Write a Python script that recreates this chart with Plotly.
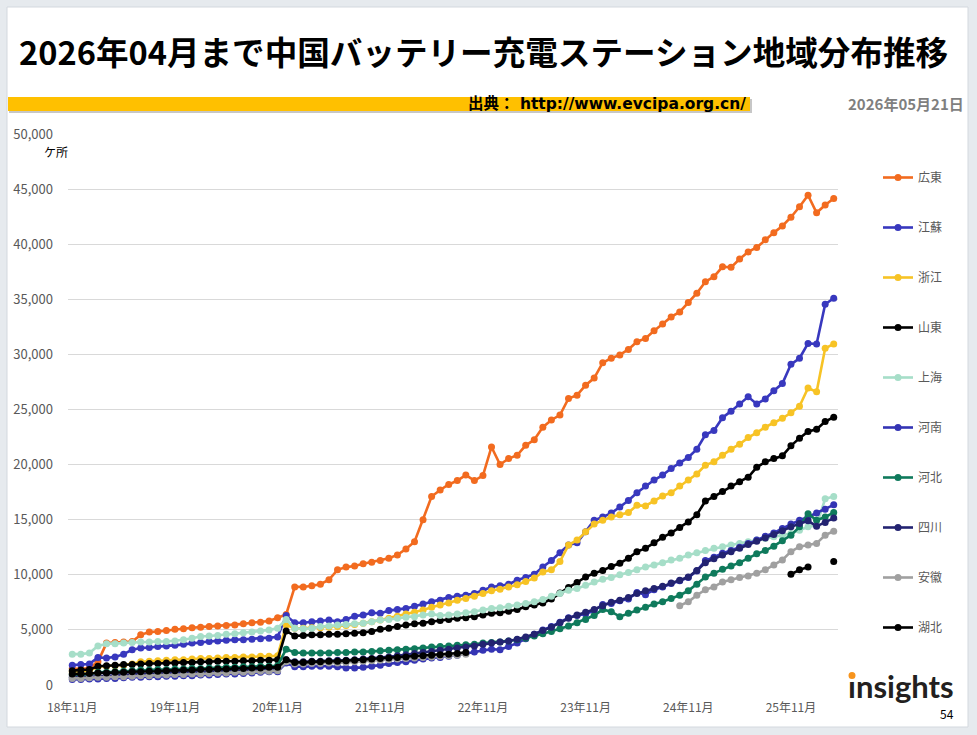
import plotly.graph_objects as go
import pandas as pd

# ---------------- data ----------------
months = [f"{d.year % 100:02d}年{d.month:02d}月"
          for d in pd.date_range("2018-11-01", periods=90, freq="MS")]
tick_labels = ["18年11月", "19年11月", "20年11月", "21年11月",
               "22年11月", "23年11月", "24年11月", "25年11月"]

names = ["広東", "江蘇", "浙江", "山東", "上海", "河南", "河北", "四川", "安徽", "湖北"]
colors = ["#F26B1F", "#3838BE", "#F7C325", "#000000", "#A6DEC8",
          "#3434B4", "#0F7A5C", "#232371", "#A0A0A0", "#000000"]

guangdong = [1500, 1450, 1550, 2100, 3800, 3850, 3900, 3950, 4550, 4800,
             4850, 4950, 5050, 5100, 5200, 5250, 5300, 5350, 5400, 5450,
             5550, 5650, 5700, 5800, 6100, 6400, 8900, 8900, 9000, 9150,
             9550, 10450, 10700, 10800, 11000, 11150, 11300, 11500, 11800, 12350,
             13000, 15000, 17100, 17700, 18200, 18550, 19050, 18550, 19000, 21600,
             20000, 20550, 20850, 21750, 22250, 23400, 24050, 24500, 26000, 26300,
             27200, 27850, 29250, 29650, 29950, 30450, 31150, 31450, 32150, 32750,
             33400, 33850, 34700, 35550, 36600, 37050, 37950, 37900, 38650, 39300,
             39700, 40400, 41050, 41650, 42450, 43400, 44450, 42850, 43550, 44150]

jiangsu = [1800, 1850, 1900, 2500, 2450, 2550, 2800, 3200, 3350, 3400,
           3500, 3550, 3600, 3700, 3800, 3850, 3950, 4000, 4050, 4100,
           4100, 4150, 4200, 4250, 4350, 6300, 5650, 5650, 5750, 5800,
           5900, 5750, 5950, 6250, 6350, 6550, 6500, 6750, 6850, 6950,
           7150, 7350, 7550, 7700, 7950, 8050, 8150, 8300, 8600, 8900,
           9000, 9150, 9500, 9750, 10050, 10700, 11300, 12000, 12700, 12900,
           13900, 14950, 15250, 15600, 16150, 16750, 17450, 18050, 18600, 19050,
           19650, 20150, 20650, 21400, 22700, 23100, 24250, 24850, 25500, 26150,
           25500, 25950, 26700, 27350, 29100, 29650, 31000, 30950, 34550, 35100]

zhejiang = [1200, 1250, 1300, 1650, 1700, 1750, 1800, 1900, 2100, 2150,
            2200, 2250, 2300, 2300, 2350, 2400, 2400, 2450, 2500, 2500,
            2550, 2550, 2600, 2600, 2650, 5450, 5150, 5150, 5200, 5200,
            5250, 5300, 5400, 5500, 5600, 5750, 5900, 6050, 6250, 6450,
            6600, 6800, 7050, 7250, 7450, 7700, 7850, 8050, 8300, 8550,
            8700, 8900, 9100, 9400, 9700, 10250, 10450, 11200, 12700, 13150,
            13900, 14600, 14950, 15250, 15450, 15650, 16300, 16250, 16700, 17150,
            17450, 18050, 18600, 19150, 19950, 20250, 20850, 21400, 21850, 22450,
            22900, 23400, 23800, 24200, 24700, 25300, 26950, 26600, 30550, 30950]

shandong = [1300, 1350, 1400, 1700, 1750, 1800, 1850, 1850, 1900, 1950,
            1950, 2000, 2000, 2050, 2050, 2100, 2100, 2150, 2150, 2150,
            2200, 2200, 2250, 2250, 2300, 4900, 4450, 4500, 4550, 4550,
            4600, 4600, 4650, 4700, 4750, 4850, 5050, 5150, 5300, 5450,
            5550, 5600, 5750, 5850, 5950, 6050, 6100, 6200, 6350, 6500,
            6550, 6700, 6850, 7100, 7250, 7450, 7800, 8350, 8850, 9300,
            9800, 10150, 10400, 10750, 11050, 11500, 12100, 12400, 12900, 13400,
            13800, 14300, 14800, 15450, 16700, 17100, 17550, 18050, 18450, 18850,
            19750, 20250, 20550, 20800, 21700, 22400, 23000, 23200, 23900, 24300]

shanghai = [2800, 2800, 2900, 3550, 3750, 3750, 3800, 3850, 3900, 3900,
            3950, 3950, 4000, 4100, 4250, 4400, 4450, 4500, 4600, 4650,
            4750, 4800, 4900, 5000, 5150, 5950, 5150, 5100, 5150, 5300,
            5350, 5450, 5500, 5550, 5600, 5750, 5900, 5950, 6050, 6150,
            6200, 6350, 6450, 6300, 6350, 6450, 6550, 6650, 6800, 6950,
            7000, 7150, 7250, 7400, 7550, 7750, 8050, 8300, 8600, 8750,
            9050, 9350, 9600, 9750, 10000, 10200, 10450, 10700, 10900, 11100,
            11350, 11500, 11800, 12000, 12200, 12400, 12550, 12700, 12850, 13000,
            13150, 13300, 13450, 13600, 13750, 14050, 14350, 14500, 16900, 17100]

henan = [500, 500, 550, 550, 600, 600, 650, 700, 700, 750,
         750, 800, 800, 850, 850, 900, 900, 950, 1000, 1000,
         1050, 1100, 1150, 1200, 1200, 2000, 1650, 1650, 1700, 1700,
         1700, 1650, 1550, 1550, 1600, 1700, 1800, 1950, 2050, 2100,
         2250, 2350, 2450, 2500, 2600, 2700, 2850, 3000, 3150, 3250,
         3200, 3500, 3800, 4200, 4600, 5000, 5300, 5700, 6100, 6300,
         6450, 6750, 7300, 7400, 7650, 7800, 8400, 8200, 8650, 8900,
         9200, 9450, 9750, 10350, 11300, 11600, 11950, 12200, 12500, 12850,
         13150, 13500, 13800, 14200, 14600, 14950, 15250, 15600, 15950, 16350]

hebei = [900, 900, 950, 1150, 1150, 1200, 1250, 1300, 1350, 1350,
         1400, 1400, 1450, 1450, 1500, 1500, 1550, 1550, 1600, 1600,
         1650, 1650, 1700, 1700, 1750, 3250, 2950, 2900, 2900, 2900,
         2900, 2950, 2950, 3000, 3000, 3050, 3100, 3150, 3200, 3250,
         3300, 3350, 3450, 3500, 3550, 3600, 3650, 3700, 3800, 3850,
         3900, 4000, 4100, 4250, 4450, 4650, 4850, 5100, 5350, 5650,
         5950, 6300, 6850, 6650, 6200, 6500, 6800, 7050, 7350, 7550,
         7850, 8150, 8550, 9150, 9800, 10150, 10500, 10800, 11100, 11500,
         11900, 12200, 12600, 13100, 13600, 14350, 15550, 14950, 15250, 15650]

sichuan = [700, 700, 750, 800, 850, 850, 900, 950, 1000, 1000,
           1050, 1100, 1100, 1150, 1150, 1200, 1200, 1250, 1250, 1300,
           1300, 1350, 1350, 1400, 1450, 2300, 2100, 2100, 2150, 2150,
           2200, 2250, 2250, 2300, 2350, 2400, 2450, 2550, 2650, 2750,
           2850, 2950, 3050, 3150, 3250, 3350, 3450, 3550, 3700, 3800,
           3900, 4000, 4150, 4350, 4600, 4950, 5250, 5650, 6050, 6350,
           6600, 6850, 7200, 7500, 7700, 7950, 8300, 8550, 8750, 8950,
           9250, 9500, 9800, 10400, 11100, 11450, 11800, 12100, 12400, 12750,
           13050, 13350, 13650, 14000, 14350, 14650, 14900, 14400, 14750, 15150]

anhui = ([600, 600, 650, 700, 700, 750, 750, 800, 850, 850,
          900, 900, 950, 950, 1000, 1000, 1050, 1100, 1100, 1150,
          1150, 1200, 1250, 1250, 1300, 2100, 1900, 1900, 1950, 1950,
          2000, 2000, 2050, 2100, 2150, 2200, 2250, 2300, 2350, 2400,
          2450, 2500, 2550, 2600, 2650, 2700, 2800]
         + [None] * 24
         + [7200, 7550, 8150, 8650, 8900, 9350, 9550, 9750, 9900, 10150,
            10450, 10900, 11350, 12100, 12550, 12700, 12850, 13600, 13950])

hubei = ([1000, 1000, 1050, 1100, 1100, 1150, 1150, 1200, 1200, 1250,
          1250, 1300, 1300, 1350, 1350, 1400, 1400, 1450, 1450, 1500,
          1500, 1550, 1550, 1600, 1600, 2300, 2050, 2050, 2100, 2100,
          2150, 2150, 2200, 2250, 2300, 2350, 2400, 2450, 2500, 2550,
          2600, 2650, 2700, 2750, 2800, 2850, 2950]
         + [None] * 37
         + [10050, 10450, 10700, None, None, 11200])

series = [guangdong, jiangsu, zhejiang, shandong, shanghai,
          henan, hebei, sichuan, anhui, hubei]
for s in series:
    assert len(s) == 90

# ---------------- layout helpers ----------------
W, H = 977, 735
L, R, T, B = 68, 139, 134, 50
PW, PH = W - L - R, H - T - B


def px(x):
    return (x - L) / PW


def py(y):
    return (H - B - y) / PH


FONT = "Noto Sans CJK JP"
WIDE = "DejaVu Sans, Noto Sans CJK JP"

fig = go.Figure()
for name, color, vals in zip(names, colors, series):
    fig.add_trace(go.Scatter(
        x=months, y=vals, name=name, legendgroup=name,
        mode="lines+markers",
        line=dict(color=color, width=2.6),
        marker=dict(color=color, size=7),
        connectgaps=False,
        hoverinfo="skip",
    ))

shapes = [
    # white slide panel
    dict(type="rect", xref="paper", yref="paper",
         x0=px(7), x1=px(968), y0=py(727), y1=py(7),
         fillcolor="white", line=dict(color="#D3D8DE", width=1), layer="below"),
    # shadow of source bar
    dict(type="rect", xref="paper", yref="paper",
         x0=px(9), x1=px(752), y0=py(113), y1=py(99),
         fillcolor="rgba(0,0,0,0.22)", line=dict(width=0), layer="below"),
    # source bar
    dict(type="rect", xref="paper", yref="paper",
         x0=px(8), x1=px(750), y0=py(111), y1=py(97),
         fillcolor="#FFC000", line=dict(width=0), layer="below"),
    # orange dot of logo
    dict(type="circle", xref="paper", yref="paper",
         x0=px(848.5), x1=px(855.5), y0=py(679), y1=py(672),
         fillcolor="#F7941D", line=dict(width=0), layer="above"),
]

annotations = [
    dict(text="2026年04月まで中国バッテリー充電ステーション地域分布推移",
         x=px(483), y=py(50), xanchor="center", yanchor="middle",
         font=dict(family=FONT, size=32.6, color="#000000", weight="bold")),
    dict(text="出典： http://www.evcipa.org.cn/",
         x=px(748), y=py(104), xanchor="right", yanchor="middle",
         font=dict(family=WIDE, size=15.5, color="#000000", weight="bold")),
    dict(text="2026年05月21日",
         x=px(966), y=py(104), xanchor="right", yanchor="middle",
         font=dict(family=FONT, size=15, color="#7F7F7F", weight="bold")),
    dict(text="ケ所", x=px(56), y=py(151), xanchor="center", yanchor="middle",
         font=dict(family=FONT, size=12, color="#000000")),
    dict(text="ınsights", x=px(846), y=py(686), xanchor="left", yanchor="middle",
         font=dict(family="Lato", size=31, color="#231F20", weight="bold")),
    dict(text="54", x=px(956), y=py(713), xanchor="right", yanchor="middle",
         font=dict(family=FONT, size=12, color="#000000")),
]
for a in annotations:
    a.update(xref="paper", yref="paper", showarrow=False)

fig.update_layout(
    width=W, height=H, autosize=False,
    margin=dict(l=L, r=R, t=T, b=B, pad=0),
    paper_bgcolor="#E6EAEE",
    plot_bgcolor="rgba(0,0,0,0)",
    font=dict(family=FONT, size=12, color="#595959"),
    shapes=shapes,
    annotations=annotations,
    showlegend=True,
    legend=dict(x=px(878), y=py(163), xanchor="left", yanchor="top",
                bgcolor="rgba(0,0,0,0)", borderwidth=0,
                font=dict(family=FONT, size=12, color="#595959"),
                tracegroupgap=31, traceorder="grouped"),
    hovermode=False,
)

fig.update_xaxes(
    type="category", categoryorder="array", categoryarray=months,
    range=[-0.5, 89.5],
    tickmode="array", tickvals=tick_labels, ticktext=tick_labels,
    showgrid=False, showline=False, zeroline=False, ticks="",
    tickfont=dict(family=FONT, size=12, color="#595959"),
    ticklabelstandoff=14,
)
fig.update_yaxes(
    range=[0, 50000], dtick=5000, tick0=0, tickformat=",",
    showgrid=True, gridcolor="#D9D9D9", gridwidth=1,
    showline=False, zeroline=False, ticks="",
    tickfont=dict(family=FONT, size=13, color="#595959"),
    ticklabelstandoff=14,
)

fig.write_html("out.html", config={"displayModeBar": False})
